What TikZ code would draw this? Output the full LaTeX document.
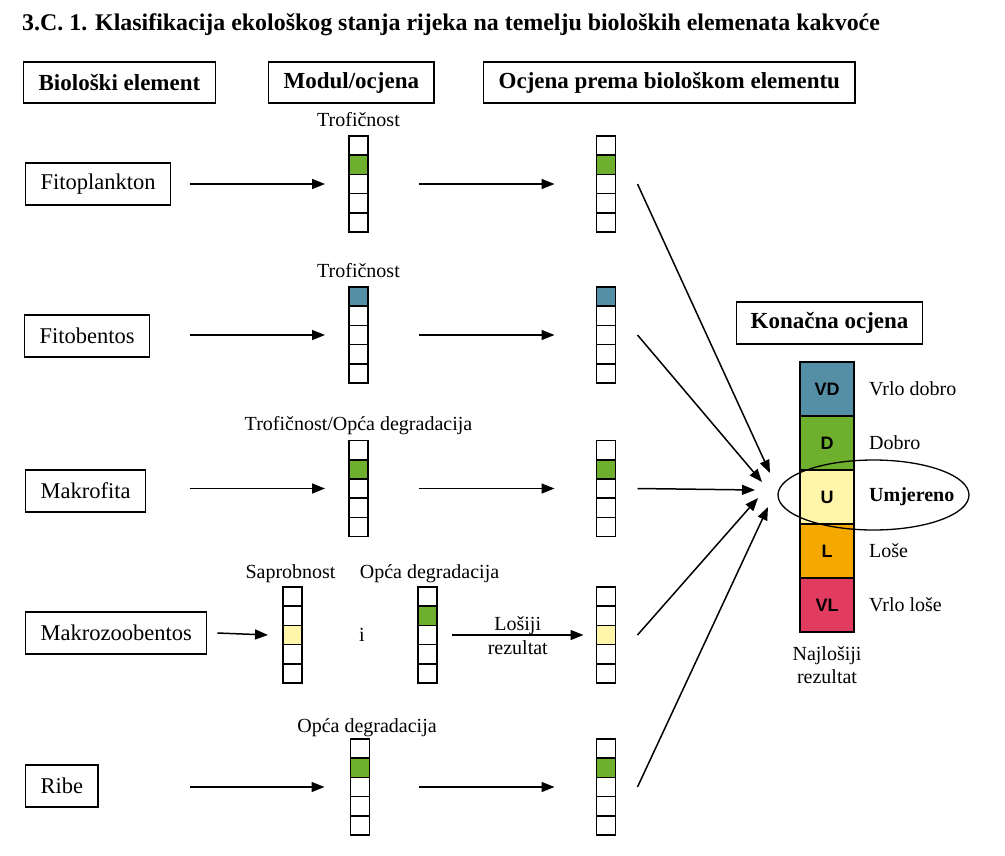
\documentclass[tikz,border=0pt]{standalone}
\usepackage{fontspec}
\setmainfont{Liberation Serif}
\newfontfamily\arialfont{Liberation Sans}
\usetikzlibrary{arrows.meta,positioning}

\definecolor{vdplava}{RGB}{85,143,166}
\definecolor{dzelena}{RGB}{110,176,45}
\definecolor{uzuta}{RGB}{255,246,170}
\definecolor{lnarancasta}{RGB}{245,168,0}
\definecolor{vlcrvena}{RGB}{225,60,95}

\tikzset{
  zaglavlje/.style={draw,line width=1.3pt,minimum height=41pt,inner xsep=15pt,font=\bfseries\fontsize{23}{26}\selectfont},
  element/.style={draw,line width=1.1pt,minimum height=42pt,inner xsep=15pt,font=\fontsize{22.5}{26}\selectfont},
  oznaka/.style={inner sep=1pt,font=\fontsize{20}{23}\selectfont},
  celija/.style={draw,line width=1.6pt,minimum width=19pt,minimum height=19.2pt,inner sep=0pt,outer sep=0pt},
  razred/.style={draw,line width=1.6pt,minimum width=54pt,minimum height=54pt,inner sep=0pt,outer sep=0pt,font=\arialfont\bfseries\fontsize{18}{20}\selectfont},
  strelica/.style={line width=1.5pt,-{Triangle[length=13pt,width=10pt]}},
}

% stupac ocjene: ime, x, y (sredina), obojena celija, boja
\newcommand{\stupac}[5]{%
  \foreach \c in {1,...,5}{
    \node[celija] (#1-\c) at (#2,{#3+(\c-3)*19.2}) {};
  }
  \node[celija,fill=#5] at (#1-#4) {};
}

\begin{document}
\begin{tikzpicture}[x=1pt,y=-1pt]
\useasboundingbox (0,0) rectangle (1005,855);
\node[anchor=base west,inner sep=0pt,font=\bfseries\fontsize{23.9}{26}\selectfont] (naslov) at (22,30) {3.C. 1. Klasifikacija ekološkog stanja rijeka na temelju bioloških elemenata kakvoće};

% zaglavlja
\node[zaglavlje,anchor=west] (h1) at (23,82.5) {Biološki element};
\node[zaglavlje,anchor=west] (h2) at (268,82.5) {Modul/ocjena};
\node[zaglavlje,anchor=west] (h3) at (483,82.5) {Ocjena prema biološkom elementu};

% biološki elementi
\node[element,anchor=west] (fito) at (25,184) {Fitoplankton};
\node[element,anchor=west] (bent) at (24,336) {Fitobentos};
\node[element,anchor=west] (makf) at (25,491) {Makrofita};
\node[element,anchor=west] (mzb) at (25,633) {Makrozoobentos};
\node[element,anchor=west] (ribe) at (25,786) {Ribe};
\coordinate (lijevo) at (190,0);

% stupci
\stupac{m1}{358.5}{184}{2}{dzelena}
\stupac{r1}{606}{184}{2}{dzelena}
\stupac{m2}{358.5}{335}{1}{vdplava}
\stupac{r2}{606}{335}{1}{vdplava}
\stupac{m3}{358.5}{488.5}{2}{dzelena}
\stupac{r3}{606}{488.5}{2}{dzelena}
\stupac{s4}{292.5}{635}{3}{uzuta}
\stupac{o4}{427.5}{635}{2}{dzelena}
\stupac{r4}{606}{635}{3}{uzuta}
\stupac{m5}{360}{787}{2}{dzelena}
\stupac{r5}{606}{787}{2}{dzelena}

\node[oznaka,anchor=base] at ([yshift=10pt]m1-1.north) {Trofičnost};
\node[oznaka,anchor=base] at ([yshift=10pt]m2-1.north) {Trofičnost};
\node[oznaka,anchor=base] at ([yshift=10pt]m3-1.north) {Trofičnost/Opća degradacija};
\node[oznaka,anchor=base] at ([xshift=-2pt,yshift=9pt]s4-1.north) {Saprobnost};
\node[oznaka,anchor=base] at ([xshift=2pt,yshift=9pt]o4-1.north) {Opća degradacija};
\node[oznaka,anchor=base] at ([xshift=7pt,yshift=7pt]m5-1.north) {Opća degradacija};
\node[oznaka] (i4) at (362,635) {i};

% strelice
\draw[strelica] (lijevo |- m1-3) -- ([xshift=-24pt]m1-3.west);
\draw[strelica] (lijevo |- m2-3) -- ([xshift=-24pt]m2-3.west);
\draw[strelica] (lijevo |- m3-3) -- ([xshift=-24pt]m3-3.west);
\draw[strelica] ([xshift=10pt]mzb.east) -- ([xshift=-15pt]s4-3.west);
\draw[strelica] (lijevo |- m5-3) -- ([xshift=-26pt]m5-3.west);

\draw[strelica] ([xshift=51pt]m1-3.east) -- ([xshift=-42pt]r1-3.west);
\draw[strelica] ([xshift=51pt]m2-3.east) -- ([xshift=-42pt]r2-3.west);
\draw[strelica] ([xshift=51pt]m3-3.east) -- ([xshift=-42pt]r3-3.west);
\draw[strelica] ([xshift=15pt]o4-3.east) -- node[oznaka,above=-1pt]{Lošiji} node[oznaka,below=4pt]{rezultat} ([xshift=-13pt]r4-3.west);
\draw[strelica] ([xshift=49pt]m5-3.east) -- ([xshift=-42pt]r5-3.west);

% konačna ocjena
\node[zaglavlje,inner xsep=14pt,minimum height=42pt] (kon) at (829.5,323) {Konačna ocjena};
\node[razred,fill=vdplava] (k1) at (827,389) {VD};
\node[razred,fill=dzelena,below=0pt of k1] (k2) {D};
\node[razred,fill=uzuta,below=0pt of k2] (k3) {U};
\node[razred,fill=lnarancasta,below=0pt of k3] (k4) {L};
\node[razred,fill=vlcrvena,below=0pt of k4] (k5) {VL};
\node[oznaka,anchor=west] at ([xshift=14pt]k1.east) {Vrlo dobro};
\node[oznaka,anchor=west] at ([xshift=14pt]k2.east) {Dobro};
\node[oznaka,anchor=west,font=\bfseries\fontsize{20}{23}\selectfont] at ([xshift=14pt]k3.east) {Umjereno};
\node[oznaka,anchor=west] at ([xshift=14pt]k4.east) {Loše};
\node[oznaka,anchor=west] at ([xshift=14pt]k5.east) {Vrlo loše};
\node[oznaka,align=center,below=13pt of k5] (najl) {Najlošiji\\rezultat};
\draw[line width=1.3pt] (873.5,495) ellipse [x radius=95.5pt,y radius=35pt];

\coordinate (u1) at (770,473);
\coordinate (u2) at (762,482);
\coordinate (u3) at (755,490);
\coordinate (u4) at (758,498);
\coordinate (u5) at (768,507);
\draw[strelica] ([xshift=22pt]r1-3.east) -- (u1);
\draw[strelica] ([xshift=22pt]r2-3.east) -- (u2);
\draw[strelica] ([xshift=22pt]r3-3.east) -- (u3);
\draw[strelica] ([xshift=22pt]r4-3.east) -- (u4);
\draw[strelica] ([xshift=22pt]r5-3.east) -- (u5);
\end{tikzpicture}
\end{document}
